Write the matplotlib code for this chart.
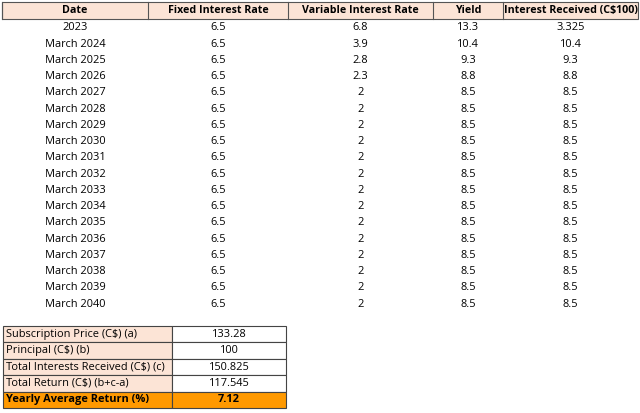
import matplotlib
matplotlib.use("Agg")
import matplotlib.pyplot as plt
from matplotlib.patches import Rectangle

headers = ["Date", "Fixed Interest Rate", "Variable Interest Rate", "Yield", "Interest Received (C$100)"]
dates = ["2023"] + [f"March {y}" for y in range(2024, 2041)]
fixed = [6.5] * 18
variable = ["6.8", "3.9", "2.8", "2.3"] + ["2"] * 14
yields = ["13.3", "10.4", "9.3", "8.8"] + ["8.5"] * 14
received = ["3.325", "10.4", "9.3", "8.8"] + ["8.5"] * 14

sum_labels = ["Subscription Price (C$) (a)", "Principal (C$) (b)", "Total Interests Received (C$) (c)",
              "Total Return (C$) (b+c-a)", "Yearly Average Return (%)"]
sum_values = ["133.28", "100", "150.825", "117.545", "7.12"]

fig = plt.figure(figsize=(6.4, 4.13), dpi=100)
ax = fig.add_axes([0, 0, 1, 1])
ax.set_xlim(0, 640); ax.set_ylim(413, 0); ax.axis("off")
FONT = "Open Sans"
fs = 7.9

cols = [2, 148, 288, 433, 503, 638]
peach = "#FCE4D6"
ax.add_patch(Rectangle((cols[0], 2), cols[-1]-cols[0], 17, facecolor=peach, edgecolor="#555555", lw=0.8))
for i, h in enumerate(headers):
    ax.plot([cols[i], cols[i]], [2, 19], color="#555555", lw=0.8)
    ax.text((cols[i]+cols[i+1])/2, 10.5, h, ha="center", va="center", fontsize=fs-0.2, fontweight="bold", family=FONT)
rowh = 16.24
for r in range(len(dates)):
    y = 28 + r*rowh
    vals = [dates[r], f"{fixed[r]}", variable[r], yields[r], received[r]]
    for i, v in enumerate(vals):
        ax.text((cols[i]+cols[i+1])/2, y, v, ha="center", va="center", fontsize=fs, family=FONT)

sx = [3, 172, 286]
top = 326; sh = 16.4
for r in range(5):
    y0 = top + r*sh
    last = r == 4
    lc = "#FF9900" if last else peach
    rc = "#FF9900" if last else "white"
    ax.add_patch(Rectangle((sx[0], y0), sx[1]-sx[0], sh, facecolor=lc, edgecolor="#444444", lw=0.8))
    ax.add_patch(Rectangle((sx[1], y0), sx[2]-sx[1], sh, facecolor=rc, edgecolor="#444444", lw=0.8))
    w = "bold" if last else "normal"
    ax.text(sx[0]+3, y0+sh/2, sum_labels[r], ha="left", va="center", fontsize=fs, family=FONT, fontweight=w)
    ax.text((sx[1]+sx[2])/2, y0+sh/2, sum_values[r], ha="center", va="center", fontsize=fs, family=FONT, fontweight=w)

fig.savefig("out.png", dpi=100)
